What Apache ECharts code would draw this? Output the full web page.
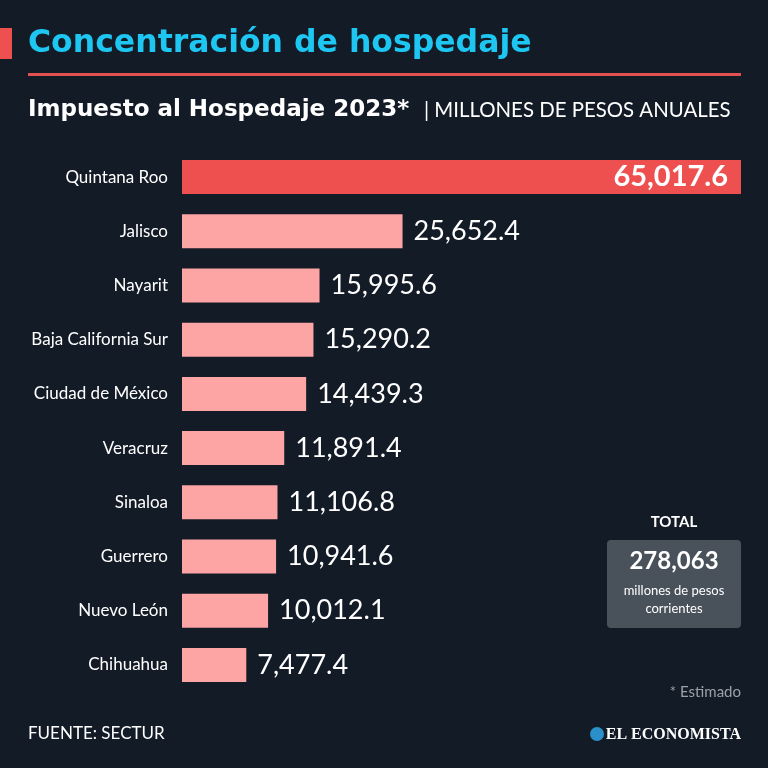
<!DOCTYPE html>
<html>
<head>
<meta charset="utf-8">
<script src="https://cdn.jsdelivr.net/npm/echarts@6/dist/echarts.min.js"></script>
<style>
  html, body { margin: 0; padding: 0; background: #131b27; }
  #chart { width: 768px; height: 768px; }
</style>
</head>
<body>
<div id="chart"></div>
<script>
// datos: Impuesto al Hospedaje 2023 (millones de pesos)
var estados = ["Quintana Roo", "Jalisco", "Nayarit", "Baja California Sur", "Ciudad de México",
               "Veracruz", "Sinaloa", "Guerrero", "Nuevo León", "Chihuahua"];
var valores = [65017.6, 25652.4, 15995.6, 15290.2, 14439.3, 11891.4, 11106.8, 10941.6, 10012.1, 7477.4];
var total = "278,063";

var fmt = function (v) {
    return v.toLocaleString("en-US", {minimumFractionDigits: 1, maximumFractionDigits: 1});
};

var datos = valores.map(function (v, i) {
    if (i == 0) {
        return {
            value: v,
            itemStyle: {color: "#ee4f4f"},
            label: {position: "insideRight", fontWeight: "bold", fontSize: 29, distance: 13}
        };
    }
    return {value: v};
});

var chart = echarts.init(document.getElementById("chart"));
var font = "Lato, 'Noto Sans', sans-serif";
var wide = "'DejaVu Sans', Lato, sans-serif";

var option = {
    backgroundColor: "#131b27",
    animation: false,
    grid: {left: 182, right: 27, top: 150, bottom: 76},
    xAxis: {
        type: "value",
        min: 0,
        max: 65017.6,
        show: false
    },
    yAxis: {
        type: "category",
        inverse: true,
        data: estados,
        axisLine: {show: false},
        axisTick: {show: false},
        axisLabel: {color: "#ffffff", fontSize: 17, fontFamily: font, margin: 14}
    },
    series: [{
        type: "bar",
        data: datos,
        barWidth: 34,
        itemStyle: {color: "#fda5a5"},
        label: {
            show: true,
            position: "right",
            distance: 11,
            color: "#ffffff",
            fontSize: 27,
            fontFamily: font,
            formatter: function (p) { return fmt(p.value); }
        }
    }],
    graphic: [
        {type: "rect", shape: {x: 0, y: 28, width: 12, height: 31}, style: {fill: "#ee4f4f"}},
        {type: "text", x: 28, y: 44, style: {text: "Concentración de hospedaje", fill: "#1ec6f2",
            font: "bold 31.5px " + wide, verticalAlign: "middle"}},
        {type: "rect", shape: {x: 28, y: 73, width: 713, height: 3}, style: {fill: "#e0514f"}},
        {type: "text", x: 28, y: 110, style: {text: "Impuesto al Hospedaje 2023*", fill: "#ffffff",
            font: "bold 23px " + wide, verticalAlign: "middle"}},
        {type: "text", x: 424, y: 110, style: {text: "| MILLONES DE PESOS ANUALES", fill: "#ffffff",
            font: "20.4px " + font, verticalAlign: "middle"}},
        {type: "text", x: 674, y: 522, style: {text: "TOTAL", fill: "#ffffff",
            font: "bold 15px " + font, align: "center", verticalAlign: "middle"}},
        {type: "rect", shape: {x: 607, y: 540, width: 134, height: 88, r: 4}, style: {fill: "#49515b"}},
        {type: "text", x: 674, y: 561, style: {text: total, fill: "#ffffff",
            font: "bold 24px " + font, align: "center", verticalAlign: "middle"}},
        {type: "text", x: 674, y: 591, style: {text: "millones de pesos", fill: "#ffffff",
            font: "13px " + font, align: "center", verticalAlign: "middle"}},
        {type: "text", x: 674, y: 609, style: {text: "corrientes", fill: "#ffffff",
            font: "13px " + font, align: "center", verticalAlign: "middle"}},
        {type: "text", x: 741, y: 692, style: {text: "* Estimado", fill: "#9aa0a6",
            font: "15px " + font, align: "right", verticalAlign: "middle"}},
        {type: "text", x: 28, y: 734, style: {text: "FUENTE: SECTUR", fill: "#ffffff",
            font: "17px " + font, verticalAlign: "middle"}},
        {type: "circle", shape: {cx: 597, cy: 734, r: 7}, style: {fill: "#2b8fc9"}},
        {type: "text", x: 741, y: 735, style: {text: "EL ECONOMISTA", fill: "#ffffff",
            font: "bold 16px 'Liberation Serif', 'DejaVu Serif', serif", align: "right", verticalAlign: "middle"}}
    ]
};

chart.setOption(option);
</script>
</body>
</html>
